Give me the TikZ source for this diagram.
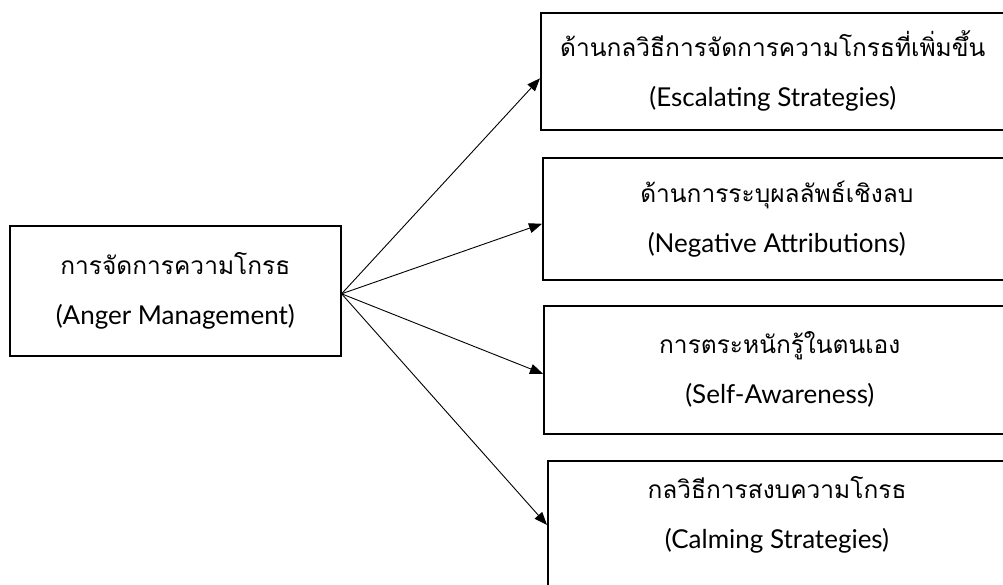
\documentclass[tikz,border=0pt]{standalone}
\usepackage{fontspec}
\newfontfamily\thaifont[Script=Thai]{Loma}
\newfontfamily\latfont{Lato}
\newcommand{\en}[1]{{\latfont\fontsize{26}{50}\selectfont #1}}
\usetikzlibrary{arrows.meta}
\begin{document}
\begin{tikzpicture}[x=1pt,y=-1pt,
  box/.style={draw, line width=1.6pt, rectangle, anchor=north west, inner sep=0pt},
  txt/.style={font=\thaifont\fontsize{24.5}{50}\selectfont, align=center, inner sep=0pt},
  arr/.style={-{Triangle[length=13pt,width=10pt]}, line width=0.9pt}]
\useasboundingbox (0,0) rectangle (1003,585);
\clip (0,0) rectangle (1003,585);
\fill[white] (0,0) rectangle (1003,585);
% source
\node[box, minimum width=331pt, minimum height=130pt] (src) at (9,225) {};
\node[txt] (srct) at (src.center) {การจัดการความโกรธ\\\en{(Anger Management)}};
% targets
\node[box, minimum width=464pt, minimum height=117pt] (b1) at (540,12) {};
\node[txt] (t1) at (b1.center) {ด้านกลวิธีการจัดการความโกรธที่เพิ่มขึ้น\\\en{(Escalating Strategies)}};
\node[box, minimum width=468pt, minimum height=122pt] (b2) at (542,157) {};
\node[txt] (t2) at (b2.center) {ด้านการระบุผลลัพธ์เชิงลบ\\\en{(Negative Attributions)}};
\node[box, minimum width=472pt, minimum height=128pt] (b3) at (543,305) {};
\node[txt] (t3) at (b3.center) {การตระหนักรู้ในตนเอง\\\en{(Self-Awareness)}};
\node[box, minimum width=460pt, minimum height=150pt] (b4) at (547,460) {};
\node[txt] (t4) at (777,515) {กลวิธีการสงบความโกรธ\\\en{(Calming Strategies)}};
% arrows
\draw[arr] ([yshift=-3pt]src.east) -- ([yshift=-7pt]b1.west);
\draw[arr] ([yshift=-3pt]src.east) -- ([yshift=-5pt]b2.west);
\draw[arr] ([yshift=-3pt]src.east) -- ([yshift=-4pt]b3.west);
\draw[arr] ([yshift=-3pt]src.east) -- ([yshift=-65pt]b4.north west);
\end{tikzpicture}
\end{document}
